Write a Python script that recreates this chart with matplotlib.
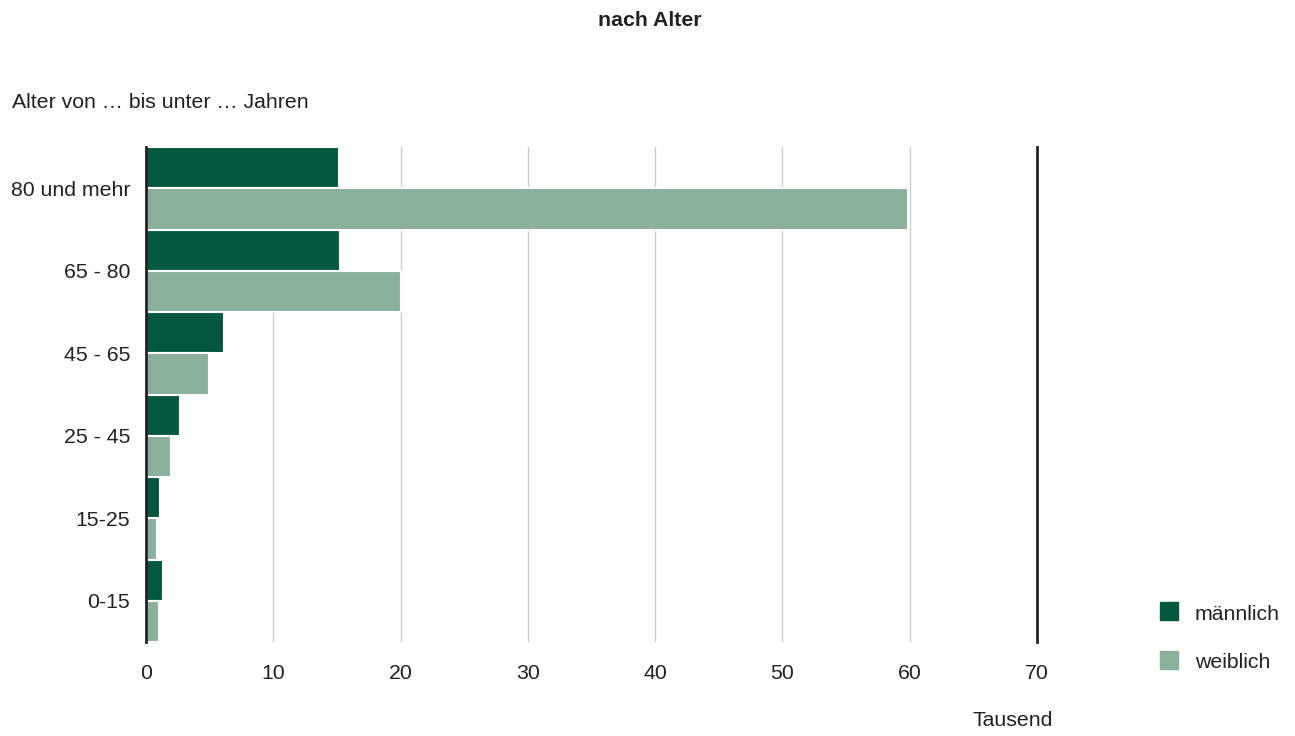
import matplotlib.pyplot as plt
from matplotlib.patches import Rectangle
import numpy as np

plt.rcParams['font.family'] = ['Liberation Sans', 'DejaVu Sans']

# data (Tausend)
age_groups = ['80 und mehr', '65 - 80', '45 - 65', '25 - 45', '15-25', '0-15']
maennlich = [15.15, 15.25, 6.1, 2.65, 1.1, 1.35]
weiblich = [59.85, 20.05, 4.95, 2.0, 0.85, 1.05]
x_ticks = [0, 10, 20, 30, 40, 50, 60, 70]
series_names = ['männlich', 'weiblich']

dark_green = '#02573f'
light_green = '#8bb19b'
text_col = '#222222'
fs = 15.3

W, H = 1295, 736
fig = plt.figure(figsize=(W / 100, H / 100), dpi=100)
ax = fig.add_axes([146 / W, 1 - 642 / H, 891 / W, 495 / H])

n = len(age_groups)
pos = np.arange(n)[::-1]  # first group at top
h = 0.5

ax.barh(pos + h / 2, maennlich, height=h, color=dark_green, edgecolor='white',
        linewidth=1.5, zorder=3)
ax.barh(pos - h / 2, weiblich, height=h, color=light_green, edgecolor='white',
        linewidth=1.5, zorder=3)

ax.set_xlim(0, 70)
ax.set_ylim(-0.5, n - 0.5)
ax.set_xticks(x_ticks)
ax.set_xticklabels([str(t) for t in x_ticks])
ax.set_yticks(pos)
ax.set_yticklabels(age_groups)
ax.tick_params(axis='both', length=0, labelsize=fs, colors=text_col)
ax.tick_params(axis='x', pad=16)
ax.tick_params(axis='y', pad=11.5)

for t in x_ticks[1:-1]:
    ax.axvline(t, color='#cccccc', lw=1, zorder=1)
ax.axvline(70, color=text_col, lw=2, zorder=4, clip_on=False)

for s in ['top', 'bottom', 'right']:
    ax.spines[s].set_visible(False)
ax.spines['left'].set_color(text_col)
ax.spines['left'].set_linewidth(2)
ax.spines['left'].set_zorder(5)

fig.text(650 / W, 1 - 20 / H, 'nach Alter', ha='center', va='center',
         fontsize=fs, fontweight='bold', color=text_col)
fig.text(12 / W, 1 - 102 / H, 'Alter von … bis unter … Jahren', ha='left',
         va='center', fontsize=fs, color=text_col)
fig.text(1013 / W, 1 - 721 / H, 'Tausend', ha='center', va='center',
         fontsize=fs, color=text_col)

# legend
for name, col, yc in zip(series_names, [dark_green, light_green], [611, 660]):
    fig.patches.append(Rectangle((1160 / W, 1 - (yc + 9) / H), 18 / W, 18 / H,
                                 transform=fig.transFigure, color=col))
    fig.text(1195 / W, 1 - (yc + 3) / H, name, ha='left', va='center',
             fontsize=fs, color=text_col)

fig.savefig('out.png', dpi=100)
